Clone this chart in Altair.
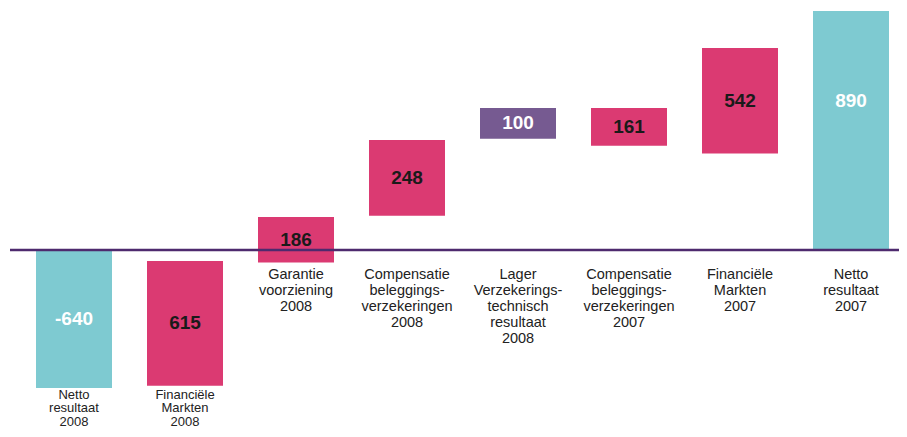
import altair as alt
import pandas as pd
import numpy as np

categories = [
    "Netto\nresultaat\n2008",
    "Financiële\nMarkten\n2008",
    "Garantie\nvoorziening\n2008",
    "Compensatie\nbeleggings-\nverzekeringen\n2008",
    "Lager\nVerzekerings-\ntechnisch\nresultaat\n2008",
    "Compensatie\nbeleggings-\nverzekeringen\n2007",
    "Financiële\nMarkten\n2007",
    "Netto\nresultaat\n2007",
]
value_labels = ["-640", "615", "186", "248", "100", "161", "542", "890"]
# bar extents as drawn in the picture (units of the drawn scale)
bar_start = [0, -506, -47, 128, 414, 388, 359, 0]
bar_end = [-514, -41, 123, 410, 529, 529, 752, 890]
kind = ["total", "step", "step", "step", "lower", "step", "step", "total"]

df = pd.DataFrame({
    "idx": list(range(len(categories))),
    "cat": categories,
    "label": value_labels,
    "start": bar_start,
    "end": bar_end,
    "kind": kind,
})
df["mid"] = (df["start"] + df["end"]) / 2
# the final total's number sits level with the previous step's number
df["label_y"] = df["mid"]
df.loc[len(df) - 1, "label_y"] = df.loc[len(df) - 2, "mid"]
df["lo"] = df[["start", "end"]].min(axis=1)
floor = -47
df["neg"] = df["lo"] < floor
df["anchor"] = np.where(df["neg"], df["lo"].min(), floor)

W, H = 891, 421
xscale = alt.Scale(domain=[-0.5946, 7.4324], nice=False, zero=False, padding=0)
yscale = alt.Scale(domain=[-666.6, 901.2], nice=False, zero=False, padding=0)
color = alt.Color("kind:N", scale=alt.Scale(
    domain=["total", "step", "lower"],
    range=["#7ECAD1", "#DB3A72", "#765A91"]), legend=None)

base = alt.Chart(df)

bars = base.mark_bar(width=76).encode(
    x=alt.X("idx:Q", scale=xscale, axis=None),
    y=alt.Y("start:Q", scale=yscale, axis=None),
    y2="end:Q",
    color=color,
)

vals = base.mark_text(font="Liberation Sans", fontWeight="bold", fontSize=19,
                      baseline="middle", align="center").encode(
    x=alt.X("idx:Q", scale=xscale),
    y=alt.Y("label_y:Q", scale=yscale),
    text="label:N",
    color=alt.Color("kind:N", scale=alt.Scale(
        domain=["total", "step", "lower"],
        range=["#FFFFFF", "#1A1A1A", "#FFFFFF"]), legend=None),
)

cats_pos = base.transform_filter("!datum.neg").mark_text(
    font="Liberation Sans", fontSize=14.5, lineHeight=16,
    baseline="top", align="center", dy=5.5,
    lineBreak="\n", color="#222222").encode(
    x=alt.X("idx:Q", scale=xscale),
    y=alt.Y("anchor:Q", scale=yscale),
    text="cat:N",
)

cats_neg = base.transform_filter("datum.neg").mark_text(
    font="Liberation Sans", fontSize=13, lineHeight=13.5,
    baseline="top", align="center", dy=0.5,
    lineBreak="\n", color="#222222").encode(
    x=alt.X("idx:Q", scale=xscale),
    y=alt.Y("anchor:Q", scale=yscale),
    text="cat:N",
)

zero_df = pd.DataFrame({"y": [0]})
zero = alt.Chart(zero_df).mark_rule(color="#4E2A6E", strokeWidth=2.5).encode(
    y=alt.Y("y:Q", scale=yscale),
    x=alt.value(2),
    x2=alt.value(W),
)

chart = alt.layer(bars, zero, vals, cats_pos, cats_neg).resolve_scale(
    color="independent").properties(
    width=W, height=H,
    autosize=alt.AutoSizeParams(type="none"),
    padding=0,
).configure_view(stroke=None)

chart.save("out.html", embed_options={"renderer": "svg", "actions": False})
